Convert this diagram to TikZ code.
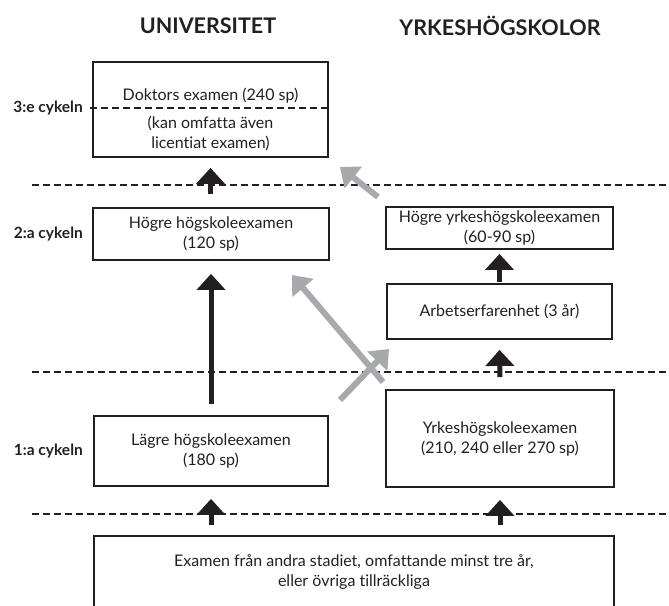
\documentclass[tikz,border=0pt]{standalone}
\usepackage{fontspec}
\setmainfont{Lato}[Ligatures=NoCommon]
\usetikzlibrary{arrows.meta}
\definecolor{ink}{HTML}{231F20}
\definecolor{arrowgray}{HTML}{A7A9AC}
\begin{document}
\begin{tikzpicture}[x=1pt,y=-1pt,
  box/.style={draw=ink, line width=1.8pt, inner sep=0pt},
  body/.style={align=center, font=\fontsize{16}{20}\selectfont, text=ink, inner sep=0pt},
  cyclabel/.style={font=\bfseries\fontsize{15.5}{17}\selectfont, text=ink, anchor=east, inner sep=0pt},
  header/.style={font=\bfseries\fontsize{21.5}{24}\selectfont, text=ink, inner sep=0pt},
  level/.style={draw=ink, line width=1.6pt, dash pattern=on 7pt off 4pt},
  blk/.style={draw=ink, line width=5pt, -{Triangle[width=28pt,length=16pt]}},
  gry/.style={draw=arrowgray, line width=6pt, -{Triangle[width=27pt,length=17pt]}},
]
\useasboundingbox (0,0) rectangle (669,605);
\clip (0,0) rectangle (669,605);

% headers
\node[header] (hu) at (208,26) {UNIVERSITET};
\node[header] (hyk) at (500,26) {YRKESHÖGSKOLOR};

% level lines
\draw[level] (32,185) -- (669,185);
\draw[level] (32,372) -- (669,372);
\draw[level] (32,514) -- (669,514);

% boxes
\node[box, minimum width=235pt, minimum height=95pt] (doc) at (210.5,109.5) {};
\node[body] (docA) at (210.5,96) {Doktors examen (240 sp)};
\node[body] (docB) at (210.5,133) {(kan omfatta även\\licentiat examen)};
\draw[level] (90,108) -- (doc.east |- 0,108);

\node[box, body, minimum width=236pt, minimum height=52pt] (hh) at (211,234) {Högre högskoleexamen\\(120 sp)};
\node[box, body, minimum width=227pt, minimum height=42pt] (hy) at (499.5,228) {Högre yrkeshögskoleexamen\\(60-90 sp)};
\node[box, body, minimum width=225pt, minimum height=55pt] (arb) at (499.5,311.5) {Arbetserfarenhet (3 år)};
\node[box, body, minimum width=234pt, minimum height=70pt] (lag) at (211,451) {Lägre högskoleexamen\\(180 sp)};
\node[box, body, minimum width=228pt, minimum height=97pt] (yh) at (500,438.5) {Yrkeshögskoleexamen\\(210, 240 eller 270 sp)};
\node[box, body, minimum width=520pt, minimum height=72pt] (bot) at (354,572) {Examen från andra stadiet, omfattande minst tre år,\\eller övriga tillräckliga};

% cycle labels
\node[cyclabel] (c3) at (83,108) {3:e cykeln};
\node[cyclabel] (c2) at (83,234) {2:a cykeln};
\node[cyclabel] (c1) at (83,451) {1:a cykeln};

% black arrows
\draw[blk, shorten <=13pt, shorten >=10pt] (hh.north -| doc.south) -- (doc.south);
\draw[blk, shorten <=11pt, shorten >=13pt] (lag.north) -- (hh.south -| lag.north);
\draw[blk, shorten <=1pt, shorten >=4pt] (arb.north) -- (hy.south);
\draw[blk, shorten <=12pt, shorten >=10pt] (yh.north) -- (arb.south);
\draw[blk, shorten <=10pt, shorten >=12pt] (bot.north -| lag.south) -- (lag.south);
\draw[blk, shorten <=10pt, shorten >=12pt] (bot.north -| yh.south) -- (yh.south);

% gray arrows
\coordinate (g1s) at (378,197);
\coordinate (g1e) at (340,167);
\coordinate (g2s) at (383,382);
\coordinate (g2e) at (292,275);
\coordinate (g3s) at (340,400);
\coordinate (g3e) at (389,349);
\draw[gry] (g1s) -- (g1e);
\draw[gry] (g2s) -- (g2e);
\draw[gry] (g3s) -- (g3e);
\end{tikzpicture}
\end{document}
